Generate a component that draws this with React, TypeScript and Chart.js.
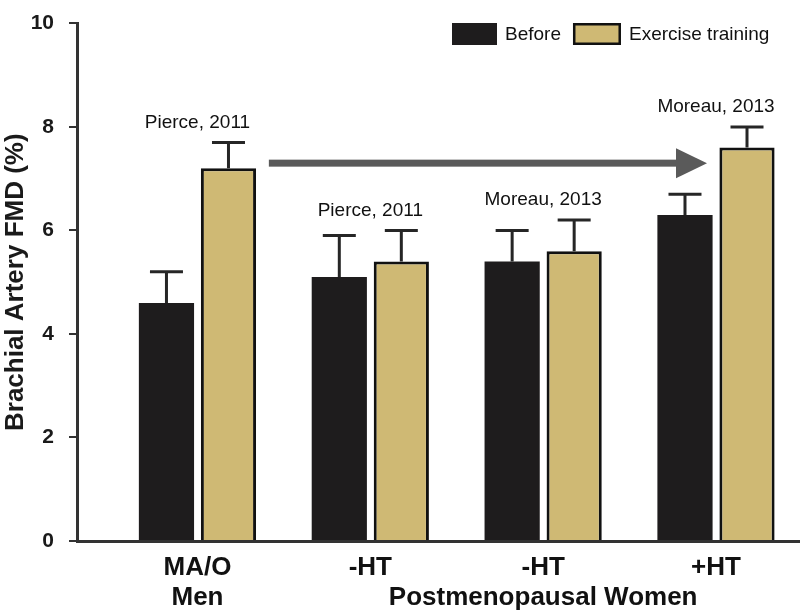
import React, { useEffect, useRef } from 'react';
import { Chart, registerables } from 'chart.js';

Chart.register(...registerables);

// ---- data ----
const groupLabels: string[][] = [['MA/O', 'Men'], ['-HT'], ['-HT', 'Postmenopausal Women'], ['+HT']];
const studyLabels = ['Pierce, 2011', 'Pierce, 2011', 'Moreau, 2013', 'Moreau, 2013'];
const seriesNames = ['Before', 'Exercise training'];
const beforeValues = [4.6, 5.1, 5.4, 6.3];
const beforeErrors = [0.6, 0.8, 0.6, 0.4];
const trainingValues = [7.2, 5.4, 5.6, 7.6];
const trainingErrors = [0.5, 0.6, 0.6, 0.4];
const yTickValues = [0, 2, 4, 6, 8, 10];
const yTitle = 'Brachial Artery FMD (%)';
// arrow annotation (data units)
const arrowY = 7.3;
const arrowFrom = 0.413;
const arrowTo = 2.948;

const FONT = "'Liberation Sans', Arial, Helvetica, sans-serif";
const BLACK = '#1e1c1d';
const GOLD = '#cfb974';

export default function App() {
  const ref = useRef<HTMLCanvasElement>(null);

  useEffect(() => {
    const canvas = ref.current;
    if (!canvas) return;

    const values = [beforeValues, trainingValues];
    const errors = [beforeErrors, trainingErrors];

    const errorBars = {
      id: 'errorBars',
      afterDatasetsDraw(chart: any) {
        const { ctx } = chart;
        const y = chart.scales.y;
        ctx.save();
        ctx.strokeStyle = '#262626';
        ctx.lineWidth = 3;
        chart.data.datasets.forEach((_ds: any, d: number) => {
          const meta = chart.getDatasetMeta(d);
          meta.data.forEach((bar: any, i: number) => {
            const top = y.getPixelForValue(values[d][i] + errors[d][i]);
            ctx.beginPath();
            ctx.moveTo(bar.x, bar.y);
            ctx.lineTo(bar.x, top);
            ctx.moveTo(bar.x - 16.5, top);
            ctx.lineTo(bar.x + 16.5, top);
            ctx.stroke();
          });
        });
        ctx.restore();
      },
    };

    const annotations = {
      id: 'annotations',
      afterDraw(chart: any) {
        const { ctx } = chart;
        const x = chart.scales.x;
        const y = chart.scales.y;
        ctx.save();
        // study labels
        ctx.fillStyle = '#111';
        ctx.font = `19px ${FONT}`;
        ctx.textAlign = 'center';
        ctx.textBaseline = 'middle';
        studyLabels.forEach((txt, i) => {
          const top = Math.min(
            y.getPixelForValue(beforeValues[i] + beforeErrors[i]),
            y.getPixelForValue(trainingValues[i] + trainingErrors[i])
          );
          ctx.fillText(txt, x.getPixelForValue(i), top - 20);
        });
        // arrow
        const ay = y.getPixelForValue(arrowY);
        const x0 = x.getPixelForValue(arrowFrom);
        const x1 = x.getPixelForValue(arrowTo);
        const head = 31;
        ctx.fillStyle = '#5a5a5a';
        ctx.fillRect(x0, ay - 3.5, x1 - head - x0 + 1, 7);
        ctx.beginPath();
        ctx.moveTo(x1 - head, ay - 15);
        ctx.lineTo(x1, ay);
        ctx.lineTo(x1 - head, ay + 15);
        ctx.closePath();
        ctx.fill();
        // legend
        ctx.font = `19px ${FONT}`;
        ctx.textAlign = 'left';
        ctx.textBaseline = 'middle';
        let lx = 452;
        const ly = 23;
        chart.data.datasets.forEach((ds: any, d: number) => {
          const bw = d === 0 ? 45 : 48;
          ctx.fillStyle = ds.backgroundColor;
          ctx.fillRect(lx, ly, bw, 22);
          if (ds.borderWidth) {
            ctx.strokeStyle = '#111';
            ctx.lineWidth = 2.5;
            ctx.strokeRect(lx + 1.25, ly + 1.25, bw - 2.5, 22 - 2.5);
          }
          lx += bw + 8;
          ctx.fillStyle = '#111';
          ctx.fillText(ds.label, lx, ly + 11.5);
          lx += ctx.measureText(ds.label).width + 12;
        });
        ctx.restore();
      },
    };

    const chart = new Chart(canvas, {
      type: 'bar',
      data: {
        datasets: [
          {
            label: seriesNames[0],
            data: beforeValues.map((v, i) => ({ x: i, y: v })),
            backgroundColor: BLACK,
            borderWidth: 0,
          },
          {
            label: seriesNames[1],
            data: trainingValues.map((v, i) => ({ x: i, y: v })),
            backgroundColor: GOLD,
            borderColor: '#111',
            borderWidth: 3,
          },
        ] as any,
      },
      options: {
        animation: false,
        responsive: true,
        maintainAspectRatio: false,
        layout: { padding: { top: 9, left: 0, right: 0, bottom: 0 } },
        datasets: { bar: { categoryPercentage: 0.7176, barPercentage: 0.89 } } as any,
        plugins: { legend: { display: false }, tooltip: { enabled: false } },
        scales: {
          x: {
            type: 'linear',
            min: -0.697,
            max: 3.486,
            offset: false,
            grid: { display: false, drawTicks: false },
            border: { display: true, color: '#333', width: 3 },
            afterBuildTicks: (s: any) => {
              s.ticks = groupLabels.map((_l, i) => ({ value: i }));
            },
            afterFit: (s: any) => {
              s.height = 73;
            },
            ticks: {
              autoSkip: false,
              maxRotation: 0,
              minRotation: 0,
              padding: 12,
              color: '#111',
              font: { family: FONT, size: 26, weight: 'bold', lineHeight: 1.15 },
              callback: (v: any) => groupLabels[v] ?? '',
            },
          } as any,
          y: {
            min: 0,
            max: 10,
            afterBuildTicks: (s: any) => {
              s.ticks = yTickValues.map((v) => ({ value: v }));
            },
            afterFit: (s: any) => {
              s.width = 77;
            },
            grid: { drawOnChartArea: false, drawTicks: true, tickLength: 8, color: '#333', lineWidth: 2 },
            border: { display: true, color: '#333', width: 3 },
            ticks: {
              padding: 15,
              color: '#1a1a1a',
              font: { family: FONT, size: 21, weight: 'bold', lineHeight: 0.8 },
            },
            title: {
              display: true,
              text: yTitle,
              color: '#1a1a1a',
              font: { family: FONT, size: 26, weight: 'bold', lineHeight: 1.15 },
              padding: { top: 1, bottom: 0 },
            },
          } as any,
        },
      },
      plugins: [errorBars, annotations],
    });

    return () => chart.destroy();
  }, []);

  return (
    <div style={{ position: 'fixed', left: 0, top: 0, width: 800, height: 614, background: '#fff' }}>
      <canvas ref={ref} />
    </div>
  );
}
